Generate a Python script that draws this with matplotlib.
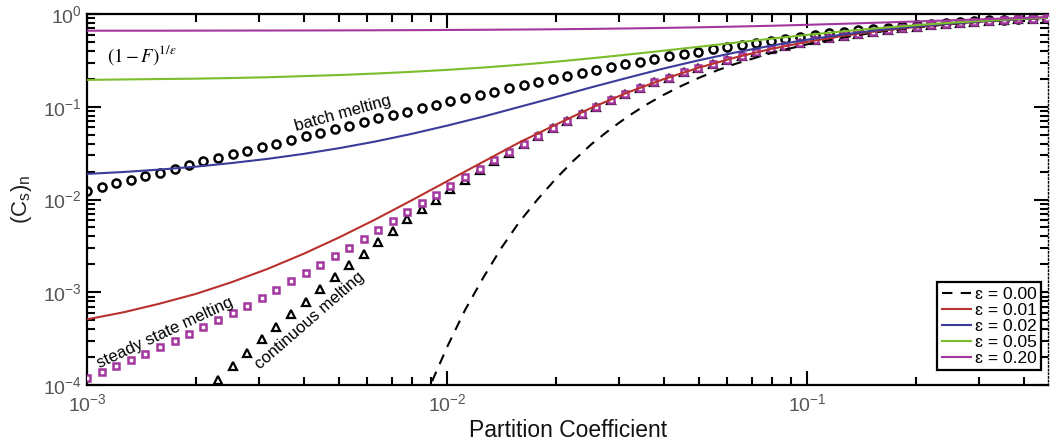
import matplotlib
matplotlib.use("Agg")
import matplotlib.pyplot as plt
from matplotlib.ticker import LogLocator, NullFormatter

plt.rcParams["font.family"] = ["Liberation Sans", "DejaVu Sans"]
plt.rcParams["mathtext.fontset"] = "custom"
plt.rcParams["mathtext.rm"] = "Liberation Sans"
plt.rcParams["mathtext.it"] = "Liberation Sans:italic"

# Partition coefficients sampled by the melting models (markers)
D_markers = [
    0.00100, 0.00110, 0.00120, 0.00132, 0.00145, 0.00159, 0.00175, 0.00192, 0.00210, 0.00231,
    0.00254, 0.00278, 0.00305, 0.00335, 0.00368, 0.00404, 0.00443, 0.00486, 0.00534, 0.00586,
    0.00643, 0.00705, 0.00774, 0.00850, 0.00932, 0.0102, 0.0112, 0.0123, 0.0135, 0.0148,
    0.0163, 0.0179, 0.0196, 0.0215, 0.0236, 0.0259, 0.0285, 0.0312, 0.0343, 0.0376,
    0.0413, 0.0453, 0.0497, 0.0546, 0.0599, 0.0658, 0.0722, 0.0792, 0.0869, 0.0954,
    0.105, 0.115, 0.126, 0.138, 0.152, 0.167, 0.183, 0.201, 0.220, 0.242,
    0.265, 0.291, 0.320, 0.351, 0.385, 0.423, 0.464,
]

batch_melting = [
    0.0123, 0.0136, 0.0150, 0.0164, 0.0178, 0.0195, 0.0215, 0.0236, 0.0258, 0.0283,
    0.0308, 0.0336, 0.0370, 0.0400, 0.0437, 0.0478, 0.0524, 0.0572, 0.0627, 0.0686,
    0.0750, 0.0818, 0.0886, 0.0968, 0.105, 0.114, 0.124, 0.135, 0.146, 0.158,
    0.171, 0.185, 0.200, 0.216, 0.232, 0.249, 0.268, 0.287, 0.306, 0.327,
    0.349, 0.371, 0.394, 0.418, 0.442, 0.466, 0.493, 0.518, 0.543, 0.569,
    0.594, 0.619, 0.643, 0.668, 0.691, 0.714, 0.735, 0.757, 0.779, 0.799,
    0.819, 0.837, 0.855, 0.871, 0.887, 0.901, 0.915,
]

steady_state_melting = [
    1.18e-4, 1.37e-4, 1.60e-4, 1.84e-4, 2.15e-4, 2.54e-4, 2.97e-4, 3.51e-4, 4.21e-4, 5.00e-4,
    5.94e-4, 7.08e-4, 8.67e-4, 1.07e-3, 1.31e-3, 1.61e-3, 1.99e-3, 2.44e-3, 3.00e-3, 3.78e-3,
    4.68e-3, 5.85e-3, 7.31e-3, 9.06e-3, 1.11e-2, 1.39e-2, 1.74e-2, 2.15e-2, 2.65e-2, 3.26e-2,
    4.00e-2, 4.88e-2, 5.90e-2, 7.10e-2, 8.41e-2, 0.100, 0.118, 0.139, 0.159, 0.183,
    0.205, 0.235, 0.263, 0.291, 0.321, 0.354, 0.387, 0.420, 0.452, 0.486,
    0.519, 0.551, 0.583, 0.614, 0.643, 0.672, 0.700, 0.727, 0.752, 0.776,
    0.799, 0.820, 0.840, 0.859, 0.877, 0.894, 0.909,
]

# continuous melting starts at the 10th partition coefficient (earlier ones fall below 1e-4)
continuous_start = 9
continuous_melting = [
    1.14e-4, 1.59e-4, 2.24e-4, 3.13e-4, 4.24e-4, 5.79e-4, 7.87e-4, 1.09e-3, 1.46e-3, 1.97e-3,
    2.61e-3, 3.48e-3, 4.53e-3, 6.10e-3, 7.94e-3, 1.00e-2, 1.30e-2, 1.64e-2, 2.07e-2, 2.57e-2,
    3.20e-2, 3.95e-2, 4.84e-2, 5.90e-2, 7.10e-2, 8.41e-2, 0.100, 0.118, 0.139, 0.159,
    0.183, 0.205, 0.235, 0.263, 0.291, 0.321, 0.354, 0.387, 0.420, 0.452,
    0.486, 0.519, 0.551, 0.583, 0.614, 0.643, 0.672, 0.700, 0.727, 0.752,
    0.776, 0.799, 0.820, 0.840, 0.859, 0.877, 0.894, 0.909,
]

# Residual solid concentration curves for different porosities
D_curve = [
    0.00100, 0.00126, 0.00158, 0.00200, 0.00251, 0.00316, 0.00398, 0.00501, 0.00631, 0.00794,
    0.0100, 0.0126, 0.0158, 0.0200, 0.0251, 0.0316, 0.0398, 0.0501, 0.0631, 0.0794,
    0.100, 0.126, 0.158, 0.200, 0.251, 0.316, 0.398, 0.468,
]
eps_001 = [
    5.11e-4, 6.08e-4, 7.50e-4, 9.59e-4, 1.28e-3, 1.78e-3, 2.59e-3, 3.91e-3, 6.10e-3, 9.75e-3,
    0.0158, 0.0256, 0.0410, 0.0641, 0.0972, 0.142, 0.198, 0.265, 0.340, 0.421,
    0.502, 0.582, 0.657, 0.725, 0.786, 0.838, 0.883, 0.911,
]
eps_002 = [
    0.0189, 0.0198, 0.0210, 0.0226, 0.0247, 0.0274, 0.0310, 0.0358, 0.0422, 0.0509,
    0.0627, 0.0784, 0.0993, 0.127, 0.162, 0.205, 0.258, 0.318, 0.385, 0.456,
    0.529, 0.602, 0.670, 0.734, 0.791, 0.841, 0.885, 0.912,
]
eps_005 = [
    0.195, 0.197, 0.199, 0.201, 0.204, 0.208, 0.214, 0.220, 0.228, 0.238,
    0.250, 0.265, 0.283, 0.306, 0.333, 0.365, 0.402, 0.444, 0.491, 0.542,
    0.596, 0.651, 0.705, 0.757, 0.806, 0.850, 0.889, 0.914,
]
eps_020 = [
    0.661, 0.661, 0.661, 0.662, 0.663, 0.664, 0.665, 0.666, 0.668, 0.670,
    0.673, 0.676, 0.680, 0.685, 0.691, 0.699, 0.708, 0.719, 0.732, 0.747,
    0.765, 0.785, 0.807, 0.831, 0.856, 0.882, 0.908, 0.926,
]

# zero-porosity (fractional) curve, sampled more densely where it is steep
D_frac = [
    0.00794, 0.00891, 0.0100, 0.0112, 0.0126, 0.0141, 0.0158, 0.0178, 0.0200, 0.0224,
    0.0251, 0.0282, 0.0316, 0.0355, 0.0398, 0.0447, 0.0501, 0.0562, 0.0631, 0.0794,
    0.100, 0.126, 0.158, 0.200, 0.251, 0.316, 0.398, 0.468,
]
eps_000 = [
    3.00e-5, 9.40e-5, 2.60e-4, 6.44e-4, 1.45e-3, 2.97e-3, 5.64e-3, 1.00e-2, 1.67e-2, 2.62e-2,
    3.93e-2, 5.64e-2, 7.78e-2, 0.104, 0.134, 0.168, 0.206, 0.247, 0.290, 0.380,
    0.472, 0.560, 0.642, 0.716, 0.780, 0.835, 0.881, 0.910,
]

legend_labels = ["ɛ = 0.00", "ɛ = 0.01", "ɛ = 0.02", "ɛ = 0.05", "ɛ = 0.20"]

RED = "#b8312c"
BLUE = "#3b3b9b"
GREEN = "#7bbd2b"
PURPLE = "#a3379f"

fig = plt.figure(figsize=(10.52, 4.45), dpi=100)
ax = fig.add_axes([0.083, 0.1348, 0.9132, 0.8337])

# model markers
ax.plot(D_markers, batch_melting, linestyle="none", marker="o", ms=5.8,
        mfc="white", mec="black", mew=1.8, zorder=2)
ax.plot(D_markers[continuous_start:], continuous_melting, linestyle="none", marker="^",
        ms=6.4, mfc="white", mec="black", mew=1.6, zorder=2)
ax.plot(D_markers, steady_state_melting, linestyle="none", marker="s", ms=4.8,
        mfc="white", mec=PURPLE, mew=1.8, zorder=3)

# porosity curves
l0, = ax.plot(D_frac, eps_000, color="black", lw=1.5, dashes=(5, 4), zorder=4)
l1, = ax.plot(D_curve, eps_001, color=RED, lw=1.5, zorder=4)
l2, = ax.plot(D_curve, eps_002, color=BLUE, lw=1.5, zorder=4)
l3, = ax.plot(D_curve, eps_005, color=GREEN, lw=1.5, zorder=4)
l4, = ax.plot(D_curve, eps_020, color=PURPLE, lw=1.5, zorder=4)

ax.set_xscale("log")
ax.set_yscale("log")
ax.set_xlim(1e-3, 0.466)
ax.set_ylim(1e-4, 1)

ax.yaxis.set_minor_locator(LogLocator(base=10, subs=range(2, 10), numticks=20))
ax.yaxis.set_minor_formatter(NullFormatter())
ax.xaxis.set_minor_locator(LogLocator(base=10, subs=range(2, 10), numticks=20))
ax.xaxis.set_minor_formatter(NullFormatter())

ax.tick_params(which="both", direction="in", top=True, right=True,
               labelsize=14, labelcolor="#555555", width=1.5)
ax.tick_params(which="major", length=10)
ax.tick_params(which="minor", length=5.5)
ax.tick_params(axis="y", pad=4)
ax.tick_params(axis="x", pad=6)

for side in ("left", "bottom", "top"):
    ax.spines[side].set_linewidth(1.6)
ax.spines["right"].set_linestyle(":")
ax.spines["right"].set_linewidth(1.0)

ax.set_xlabel("Partition Coefficient", fontsize=16.5, color="#111111", labelpad=3)
ax.set_ylabel(r"$\mathrm{(C_s)_n}$", fontsize=16, color="#222222", labelpad=6)

# annotations
ax.text(0.020, 0.889, r"$(1-F)^{1/\varepsilon}$", transform=ax.transAxes,
        fontsize=13.5, ha="left", va="center", math_fontfamily="stix")
ax.text(0.266, 0.733, "batch melting", transform=ax.transAxes, fontsize=12,
        rotation=15.5, rotation_mode="anchor", ha="center", va="center")
ax.text(0.081, 0.140, "steady state melting", transform=ax.transAxes, fontsize=12,
        rotation=25, rotation_mode="anchor", ha="center", va="center")
ax.text(0.232, 0.173, "continuous melting", transform=ax.transAxes, fontsize=12,
        rotation=41, rotation_mode="anchor", ha="center", va="center")

leg = ax.legend([l0, l1, l2, l3, l4], legend_labels, loc="lower right",
                bbox_to_anchor=(0.9927, 0.0404), borderaxespad=0, fontsize=12.5,
                labelspacing=0.05, borderpad=0.25, handletextpad=0.2,
                handlelength=1.7, fancybox=False, framealpha=1)
leg.get_frame().set_edgecolor("black")
leg.get_frame().set_linewidth(1.6)
leg.set_zorder(10)

fig.savefig("out.png", dpi=100)
